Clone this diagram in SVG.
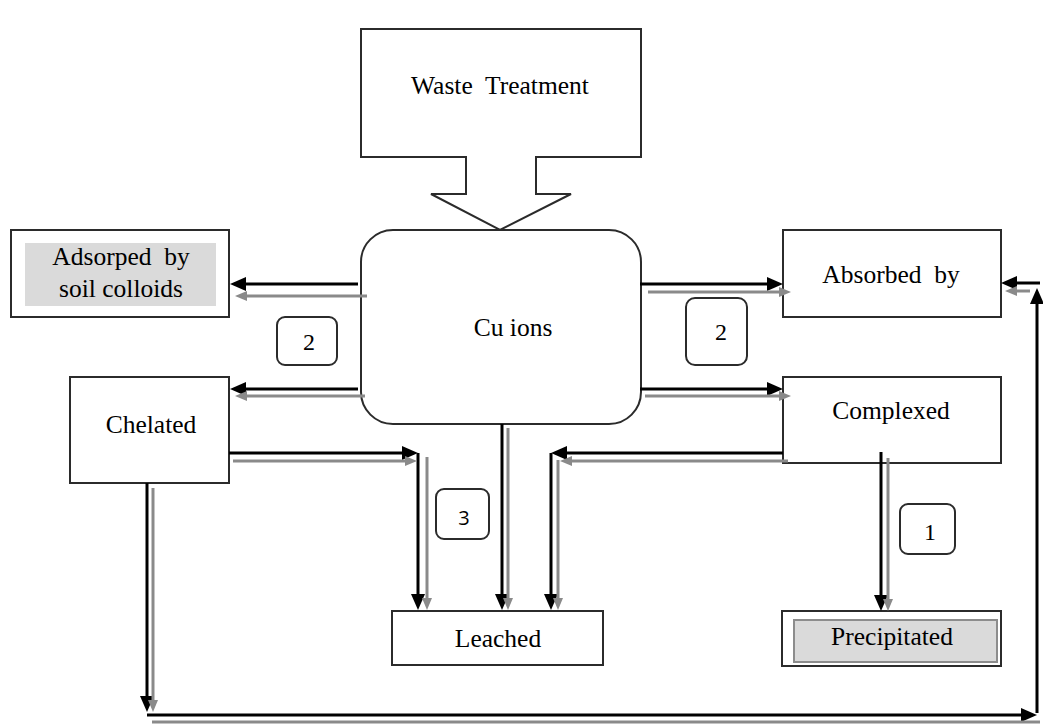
<svg xmlns="http://www.w3.org/2000/svg" width="1043" height="724" viewBox="0 0 1043 724">
<style>
.box{fill:#fff;stroke:#2b2b2b;stroke-width:2}
.lbl{font-family:"Liberation Serif","Times New Roman",serif;font-size:25.5px;fill:#000;text-anchor:middle}
.num{font-family:"Liberation Serif","Times New Roman",serif;font-size:24px;fill:#000;text-anchor:middle}
.nums{font-family:"Open Sans","Liberation Sans",sans-serif;font-size:20px;fill:#000;text-anchor:middle}
.badge{fill:#fff;stroke:#2b2b2b;stroke-width:2}
.bk{fill:none;stroke:#000;stroke-width:3}
.bka{fill:none;stroke:#000;stroke-width:3;marker-end:url(#ab)}
.gy{fill:none;stroke:#8a8a8a;stroke-width:3}
.gya{fill:none;stroke:#8a8a8a;stroke-width:3;marker-end:url(#ag)}
</style>
<defs>
<marker id="ab" markerUnits="userSpaceOnUse" viewBox="0 0 16 14" markerWidth="16" markerHeight="14" refX="8" refY="7" orient="auto"><path d="M0,0 L16,7 L0,14 z" fill="#000"/></marker>
<marker id="ag" markerUnits="userSpaceOnUse" viewBox="0 0 12 10" markerWidth="12" markerHeight="10" refX="6" refY="5" orient="auto"><path d="M0,0 L12,5 L0,10 z" fill="#8a8a8a"/></marker>
</defs>
<rect width="1043" height="724" fill="#fff"/>

<g id="waste-treatment">
<path class="box" d="M361,29 H641 V157 H536 V194 H571 L500,230 L431,194 H466 V157 H361 Z"/>
<text class="lbl" x="500" y="94">Waste&#160; Treatment</text>
</g>

<g id="cu-ions">
<rect class="box" x="361" y="230" width="280" height="194" rx="32" ry="32"/>
<text class="lbl" x="513" y="336">Cu ions</text>
</g>

<g id="adsorped">
<rect class="box" x="11" y="230" width="218" height="87"/>
<rect x="25" y="243" width="191" height="63" fill="#dadada"/>
<text class="lbl" x="121" y="265">Adsorped&#160; by</text>
<text class="lbl" x="121" y="297">soil colloids</text>
</g>

<g id="absorbed">
<rect class="box" x="783" y="230" width="218" height="87"/>
<text class="lbl" x="891" y="283">Absorbed&#160; by</text>
</g>

<g id="chelated">
<rect class="box" x="70" y="377" width="159" height="106"/>
<text class="lbl" x="151" y="433">Chelated</text>
</g>

<g id="complexed">
<rect class="box" x="783" y="377" width="218" height="86"/>
<text class="lbl" x="891" y="419">Complexed</text>
</g>

<g id="leached">
<rect class="box" x="392" y="611" width="211" height="54"/>
<text class="lbl" x="498" y="647">Leached</text>
</g>

<g id="precipitated">
<rect class="box" x="782" y="611" width="219" height="55"/>
<rect x="794" y="620" width="203" height="42" fill="#dadada" stroke="#8c8c8c" stroke-width="2"/>
<text class="lbl" x="892" y="645">Precipitated</text>
</g>

<g id="badge-2-left">
<rect class="badge" x="277" y="317" width="60" height="48" rx="8"/>
<text class="num" x="309" y="350">2</text>
</g>
<g id="badge-2-right">
<rect class="badge" x="686" y="298" width="61" height="67" rx="9"/>
<text class="num" x="721" y="340">2</text>
</g>
<g id="badge-3">
<rect class="badge" x="436" y="489" width="53" height="50" rx="8"/>
<text class="nums" x="464" y="525">3</text>
</g>
<g id="badge-1">
<rect class="badge" x="900" y="504" width="55" height="50" rx="8"/>
<text class="num" x="930" y="540">1</text>
</g>

<g id="connectors">
<path class="bka" d="M358,284 H238"/>
<path class="gya" d="M367,296 H241"/>
<path class="bka" d="M358,389 H238"/>
<path class="gya" d="M365,396 H241"/>
<path class="bka" d="M640,284 H775"/>
<path class="gya" d="M648,292 H785"/>
<path class="bka" d="M640,389 H775"/>
<path class="gya" d="M645,396 H785"/>
<path class="bka" d="M229,453 H410"/>
<path class="bka" d="M418,453 V602"/>
<path class="gya" d="M233,461 H411"/>
<path class="gya" d="M427,457 V604"/>
<path class="bka" d="M502,424 V602"/>
<path class="gya" d="M508,428 V604"/>
<path class="bka" d="M783,453 H559"/>
<path class="bka" d="M551,453 V602"/>
<path class="gya" d="M788,461 H566"/>
<path class="gya" d="M558,460 V604"/>
<path class="bka" d="M881,452 V603"/>
<path class="gya" d="M888,458 V605"/>
<path class="bka" d="M147,483 V704"/>
<path class="gya" d="M153,488 V706"/>
<path class="bka" d="M147,715 H1029"/>
<path class="gy" d="M152,722 H1040"/>
<path class="bka" d="M1037,713 V296"/>
<path class="bka" d="M1040,283 H1009"/>
<path class="gya" d="M1030,291 H1011"/>
</g>
</svg>
